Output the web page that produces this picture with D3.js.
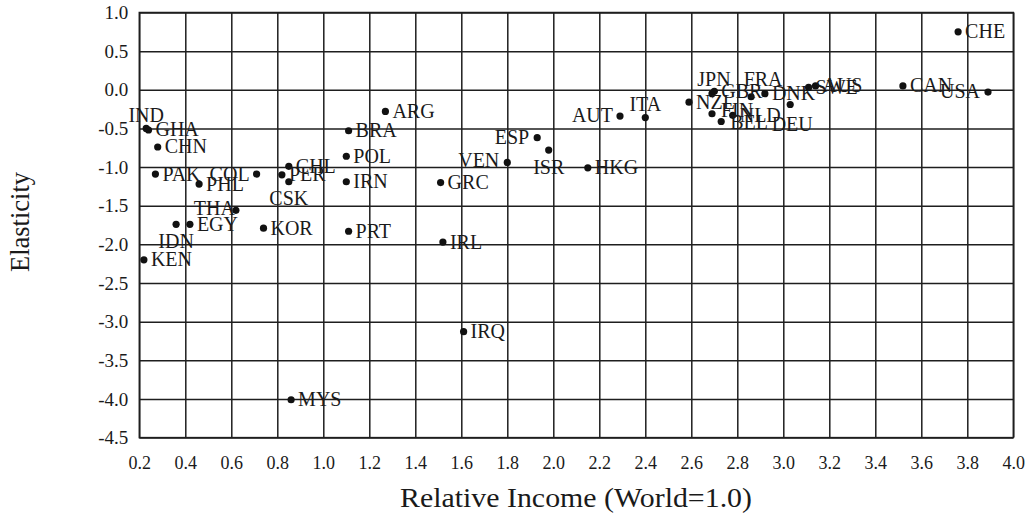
<!DOCTYPE html>
<html>
<head>
<meta charset="utf-8">
<script src="https://cdn.jsdelivr.net/npm/d3@7"></script>
<style>
body{margin:0;background:#fff;}
text{font-family:"Liberation Serif","Times New Roman",serif;fill:#1a1a1a;}
</style>
</head>
<body>
<svg></svg>
<script>
var countries=["IND","GHA","CHN","PAK","PHL","COL","CHL","PER","CSK","THA","EGY","IDN","KEN","KOR","MYS",
               "POL","IRN","BRA","PRT","ARG","GRC","IRL","IRQ","VEN","ESP","ISR","HKG","AUT","ITA",
               "NZL","JPN","GBR","FIN","BEL","NLD","FRA","DNK","DEU","SWE","AUS","CAN","CHE","USA"];
var income=[0.23,0.24,0.28,0.27,0.46,0.71,0.85,0.82,0.85,0.62,0.42,0.36,0.22,0.74,0.86,
            1.10,1.10,1.11,1.11,1.27,1.51,1.52,1.61,1.80,1.93,1.98,2.15,2.29,2.40,
            2.59,2.69,2.70,2.69,2.73,2.78,2.86,2.92,3.03,3.11,3.14,3.52,3.76,3.89];
var elasticity=[-0.50,-0.52,-0.74,-1.09,-1.22,-1.09,-0.99,-1.10,-1.19,-1.56,-1.74,-1.74,-2.20,-1.79,-4.01,
                -0.86,-1.19,-0.53,-1.83,-0.28,-1.20,-1.97,-3.13,-0.94,-0.62,-0.78,-1.01,-0.34,-0.36,
                -0.16,-0.05,-0.02,-0.31,-0.41,-0.33,-0.09,-0.05,-0.19,0.03,0.05,0.05,0.75,-0.03];
var xTicks=[0.2,0.4,0.6,0.8,1.0,1.2,1.4,1.6,1.8,2.0,2.2,2.4,2.6,2.8,3.0,3.2,3.4,3.6,3.8,4.0];
var yTicks=[1.0,0.5,0.0,-0.5,-1.0,-1.5,-2.0,-2.5,-3.0,-3.5,-4.0,-4.5];

// label placement that differs from "right of the dot": [dx, dy, anchor]
var labelPos={
  IND:[0,-6,"middle"], JPN:[2,-8,"middle"], FRA:[12,-11,"middle"],
  COL:[-7,6.5,"end"], CSK:[0,23,"middle"], THA:[-1,4.5,"end"], IDN:[0,24,"middle"],
  VEN:[-8,4.5,"end"], ESP:[-8,6,"end"], ISR:[0,23.5,"middle"], AUT:[-7,5.5,"end"],
  ITA:[0,-7,"middle"], DEU:[2,26.5,"middle"], USA:[-8,6,"end"],
  FIN:[9,3,"start"], BEL:[9,8,"start"]
};

var svgWidth=1029, svgHeight=518;
var margin={left:139.3, top:12.5, right:15.7};
var width=svgWidth-margin.left-margin.right, height=437.6-margin.top;

var data=countries.map(function(c,i){ return {name:c, x:income[i], y:elasticity[i]}; });

var svg=d3.select("svg").attr("width",svgWidth).attr("height",svgHeight);
var g=svg.append("g").attr("transform","translate("+margin.left+","+margin.top+")");

var x=d3.scaleLinear().domain([0.2,4.0]).range([0,width]);
var y=d3.scaleLinear().domain([-4.5,1.0]).range([height,0]);

var xAxis=g.append("g").attr("transform","translate(0,"+height+")")
    .call(d3.axisBottom(x).tickValues(xTicks).tickFormat(function(d){return d.toFixed(1);})
          .tickSizeInner(-height).tickSizeOuter(0).tickPadding(19));
var yAxis=g.append("g")
    .call(d3.axisLeft(y).tickValues(yTicks).tickFormat(function(d){return d.toFixed(1);})
          .tickSizeInner(-width).tickSizeOuter(0).tickPadding(11));

[xAxis,yAxis].forEach(function(a){
  a.select(".domain").remove();
  a.selectAll(".tick line").attr("stroke","#1e1e1e").attr("stroke-width",1.5);
  a.selectAll(".tick text").attr("fill","#1a1a1a");
});
xAxis.selectAll(".tick text").attr("font-size",18);
yAxis.selectAll(".tick text").attr("font-size",19);

g.append("rect").attr("width",width).attr("height",height)
  .attr("fill","none").attr("stroke","#1e1e1e").attr("stroke-width",1.5);

g.selectAll("circle").data(data).enter().append("circle")
  .attr("cx",function(d){return x(d.x);})
  .attr("cy",function(d){return y(d.y);})
  .attr("r",3.6)
  .attr("fill","#111");

g.selectAll(".lbl").data(data).enter().append("text")
  .attr("class","lbl")
  .attr("font-size",20)
  .attr("x",function(d){ var p=labelPos[d.name]; return x(d.x)+(p?p[0]:7); })
  .attr("y",function(d){ var p=labelPos[d.name]; return y(d.y)+(p?p[1]:6.5); })
  .attr("text-anchor",function(d){ var p=labelPos[d.name]; return p?p[2]:"start"; })
  .text(function(d){return d.name;});

svg.append("text")
  .attr("transform","translate(29,222) rotate(-90)")
  .attr("text-anchor","middle")
  .attr("font-size",27)
  .attr("textLength",100).attr("lengthAdjust","spacingAndGlyphs")
  .text("Elasticity");

svg.append("text")
  .attr("x",576).attr("y",507)
  .attr("text-anchor","middle")
  .attr("font-size",28)
  .attr("textLength",352).attr("lengthAdjust","spacingAndGlyphs")
  .text("Relative Income (World=1.0)");
</script>
</body>
</html>
